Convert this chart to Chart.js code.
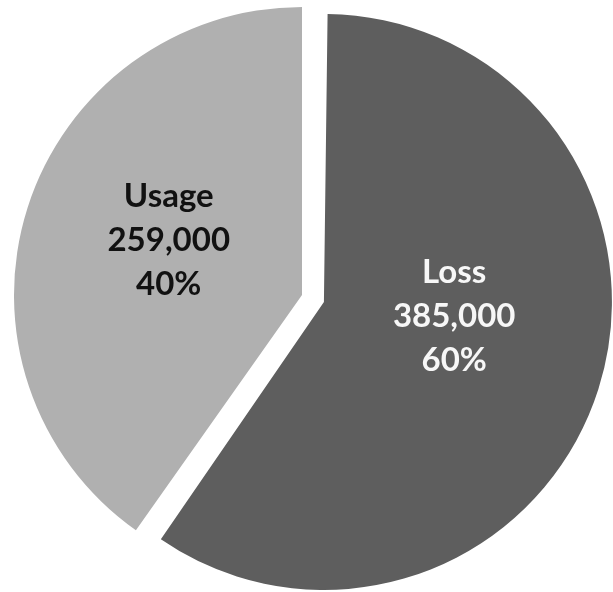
<!DOCTYPE html>
<html>
<head>
<meta charset="utf-8">
<script src="https://cdn.jsdelivr.net/npm/chart.js@4.4.1/dist/chart.umd.min.js"></script>
<style>
    html, body { margin: 0; padding: 0; background: #fff; }
    #wrap { width: 613px; height: 592px; position: relative; }
</style>
</head>
<body>
<div id="wrap"><canvas id="pieChart"></canvas></div>
<script>
const categories = ['Loss', 'Usage'];
const values = [385000, 259000];
const sliceColors = ['#5e5e5e', '#b0b0b0'];
const labelColors = ['#f7f7f7', '#111111'];

// Chart.js grows an offset arc's radius when drawing it; take that back
// so the exploded slice keeps the same size as the other one
const keepRadius = {
    id: 'keepRadius',
    afterDatasetsUpdate(chart) {
        chart.getDatasetMeta(0).data.forEach(arc => {
            const shift = (arc.options.offset || 0) / 4;
            const fix = 1 - Math.sin(Math.min(Math.PI, arc.circumference || 0));
            arc.outerRadius -= shift * fix;
        });
    }
};

// draws "name / value / percent" inside each slice
const sliceLabels = {
    id: 'sliceLabels',
    afterDatasetsDraw(chart, args, opts) {
        const ctx = chart.ctx;
        const meta = chart.getDatasetMeta(0);
        const radius = meta.controller.outerRadius;
        const data = chart.data.datasets[0].data;
        const total = data.reduce((a, b) => a + b, 0);
        ctx.save();
        ctx.font = opts.font;
        ctx.textAlign = 'center';
        ctx.textBaseline = 'middle';
        meta.data.forEach((arc, i) => {
            const mid = (arc.startAngle + arc.endAngle) / 2;
            // arc draw translates by offset / 4, follow the same shift
            const dist = radius / 2 + (arc.options.offset || 0) / 4;
            const nudge = opts.nudge[i] || {x: 0, y: 0};
            const px = arc.x + Math.cos(mid) * dist + nudge.x;
            const py = arc.y + Math.sin(mid) * dist + nudge.y;
            const lines = [
                chart.data.labels[i],
                data[i].toLocaleString('en-US'),
                Math.round(data[i] / total * 100) + '%'
            ];
            ctx.fillStyle = opts.colors[i];
            lines.forEach((line, j) => {
                ctx.fillText(line, px, py + (j - 1) * opts.lineHeight);
            });
        });
        ctx.restore();
    }
};

const ctx = document.getElementById('pieChart').getContext('2d');
new Chart(ctx, {
    type: 'pie',
    data: {
        labels: categories,
        datasets: [{
            data: values,
            backgroundColor: sliceColors,
            borderWidth: 0,
            offset: [92, 0]
        }]
    },
    options: {
        responsive: true,
        maintainAspectRatio: false,
        animation: false,
        events: [],
        radius: 288,
        layout: {
            padding: { left: 0, right: 9, top: 0, bottom: 2 }
        },
        plugins: {
            legend: { display: false },
            tooltip: { enabled: false },
            sliceLabels: {
                font: 'bold 33px Lato',
                lineHeight: 44,
                colors: labelColors,
                nudge: [{x: -7, y: -29}, {x: 4, y: -11}]
            }
        }
    },
    plugins: [keepRadius, sliceLabels]
});
</script>
</body>
</html>
